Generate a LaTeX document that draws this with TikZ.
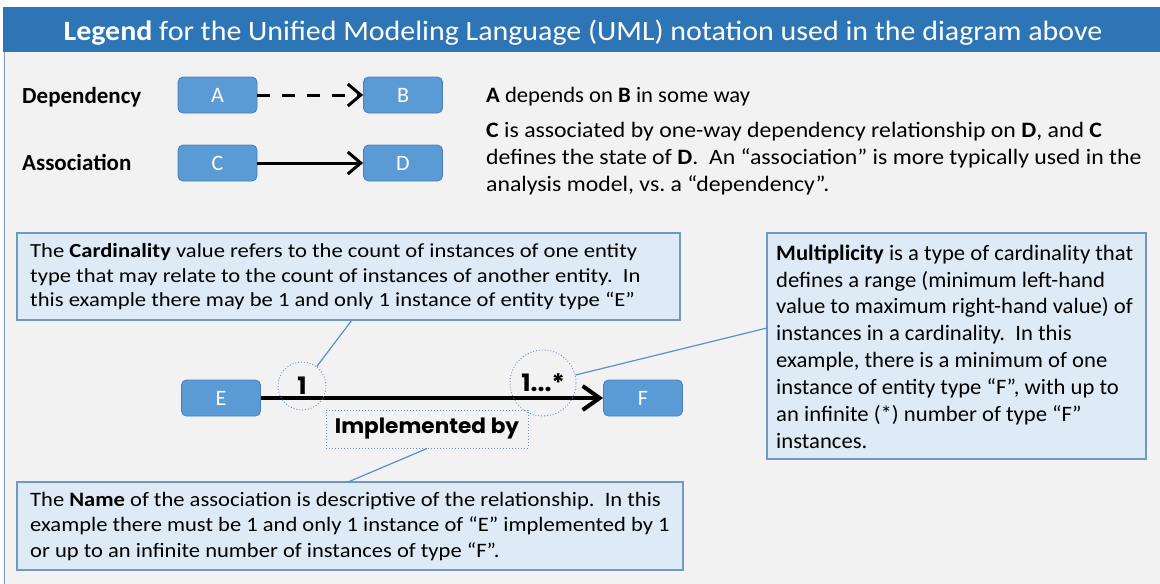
\documentclass[tikz,border=0pt]{standalone}
\usepackage{fontspec}
\setmainfont{Carlito}
\newfontfamily\geofont[FakeStretch=1.03]{Poppins}
\newfontfamily\titlefont[FakeStretch=1.07]{Carlito}
\newfontfamily\widefont[FakeStretch=1.13]{Carlito}
\newfontfamily\assfont[FakeStretch=1.08]{Carlito}
\newfontfamily\namefont[FakeStretch=1.10]{Carlito}
\newfontfamily\plainfont[FakeStretch=1.03]{Carlito}
\usetikzlibrary{arrows.meta}
\definecolor{titleblue}{HTML}{2E75B6}
\definecolor{panelbg}{HTML}{F2F2F2}
\definecolor{panelborder}{HTML}{7F9DB9}
\definecolor{entityfill}{HTML}{5B9BD5}
\definecolor{entityborder}{HTML}{4A7EBB}
\definecolor{calloutfill}{HTML}{DEEBF7}
\definecolor{calloutborder}{HTML}{7197C4}
\definecolor{calloutline}{HTML}{5B8FCB}
\definecolor{dotline}{HTML}{6A8FBE}
\frenchspacing
\begin{document}
\begin{tikzpicture}[x=1pt,y=-1pt,
  entity/.style={draw=entityborder, line width=0.8pt, fill=entityfill, rounded corners=5pt,
    minimum width=79pt, minimum height=36pt, inner sep=0pt, text=white,
    font=\fontsize{22}{24}\selectfont},
  calloutbox/.style={draw=calloutborder, line width=1.2pt, fill=calloutfill, inner sep=0pt},
  bodytext/.style={inner sep=0pt, anchor=north west, align=left, text=black},
  rowlabel/.style={inner sep=0pt, anchor=base west, font=\fontsize{23}{26}\selectfont\bfseries},
  callout/.style={draw=calloutline, line width=1.2pt},
  dotcircle/.style={circle, draw=dotline, dotted, line width=0.9pt, inner sep=0pt,
    font=\fontsize{24}{26}\selectfont\geofont\bfseries},
  barb/.style={-{Straight Barb[length=13pt, width=22pt]}}
]
\useasboundingbox (0,0) rectangle (1160,584);
% background panel and title bar
\fill[white] (0,0) rectangle (1160,584);
\fill[panelbg] (3,52) rectangle (1160,584);
\draw[panelborder, line width=1pt] (4,52) -- (4,584);
\fill[titleblue] (3,7) rectangle (1160,52);
\node[inner sep=0pt, anchor=base, text=white, font=\fontsize{28}{30}\selectfont\titlefont] (title) at (583,40.5)
  {\textbf{Legend} for the Unified Modeling Language (UML) notation used in the diagram above};

% Dependency / Association rows
\node[rowlabel] (deplabel) at (22,103) {Dependency};
\node[rowlabel] (asslabel) at (22,170) {Association};
\node[entity] (A) at (217.5,95) {A};
\node[entity] (B) at (403,95) {B};
\node[entity] (C) at (217.5,163) {C};
\node[entity] (D) at (403,163) {D};
\draw[line width=3pt, dash pattern=on 13pt off 12pt, barb] (A) -- (B);
\draw[line width=3pt, barb] (C) -- (D);

\node[inner sep=0pt, anchor=base west, font=\fontsize{22}{27}\selectfont\plainfont] (deptext) at (486,102)
  {\textbf{A} depends on \textbf{B} in some way};
\node[bodytext, font=\fontsize{22}{27}\selectfont\assfont] (asstext) at (486,122.5)
  {\textbf{C} is associated by one-way dependency relationship on \textbf{D}, and \textbf{C}\\
   defines the state of \textbf{D}.\ \ An “association” is more typically used in the\\
   analysis model, vs. a “dependency”.};

% callout boxes
\node[calloutbox, minimum width=663pt, minimum height=87pt] (card) at (348.5,276.5) {};
\node[bodytext, font=\fontsize{20}{24.6}\selectfont\widefont] (cardtext) at (30,243.4)
  {The \textbf{Cardinality} value refers to the count of instances of one entity\\
   type that may relate to the count of instances of another entity.\ \ In\\
   this example there may be 1 and only 1 instance of entity type “E”};

\node[calloutbox, minimum width=379pt, minimum height=226pt] (mult) at (956.5,346) {};
\node[bodytext, font=\fontsize{22}{26.9}\selectfont\plainfont] (multtext) at (776,244.5)
  {\textbf{Multiplicity} is a type of cardinality that\\
   defines a range (minimum left-hand\\
   value to maximum right-hand value) of\\
   instances in a cardinality.\ \ In this\\
   example, there is a minimum of one\\
   instance of entity type “F”, with up to\\
   an infinite (*) number of type “F”\\
   instances.};

\node[calloutbox, minimum width=666pt, minimum height=88pt] (name) at (350,526) {};
\node[bodytext, font=\fontsize{20.5}{25.5}\selectfont\namefont] (nametext) at (30,492)
  {The \textbf{Name} of the association is descriptive of the relationship.\ \ In this\\
   example there must be 1 and only 1 instance of “E” implemented by 1\\
   or up to an infinite number of instances of type “F”.};

% E -- F association example
\node[entity] (E) at (221,398) {E};
\node[entity] (F) at (643,398) {F};
\draw[line width=4pt, -{Straight Barb[length=17pt, width=24pt]}] (E) -- (F);
\node[dotcircle, minimum size=48pt] (c1) at (302,386) {1};
\node[dotcircle, minimum size=66pt] (c2) at (543,383) {1...*};
\node[draw=dotline, dotted, line width=1pt, minimum width=202pt, minimum height=38pt, inner sep=0pt,
  font=\fontsize{21}{24}\selectfont\geofont\bfseries] (impl) at (427,429) {Implemented by};

% callout connectors
\coordinate (cardpt) at (352,320);
\coordinate (multpt) at (767,328);
\coordinate (namept) at (348,482);
\draw[callout] (cardpt) -- (c1);
\draw[callout] (multpt) -- (c2);
\draw[callout] (impl.south) -- (namept);
\end{tikzpicture}
\end{document}
